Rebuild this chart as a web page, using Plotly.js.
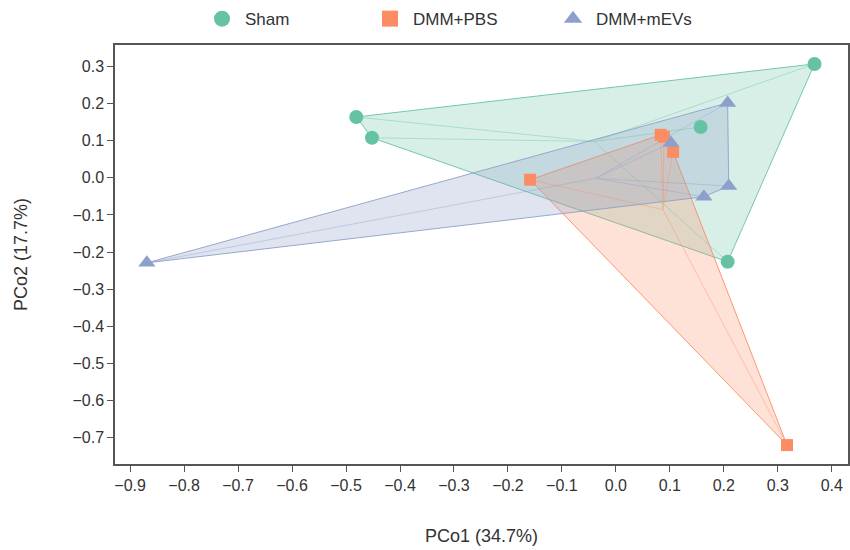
<!DOCTYPE html>
<html>
<head>
<meta charset="utf-8">
<script src="https://cdn.plot.ly/plotly-3.0.1.min.js"></script>
<style>html,body{margin:0;padding:0;background:#fff}#chart{width:850px;height:550px}</style>
</head>
<body>
<div id="chart"></div>
<script>
// Group names
const groups = ["Sham", "DMM+PBS", "DMM+mEVs"];
// PCo1 / PCo2 coordinates per group
const shamX = [0.368, -0.481, -0.452, 0.157, 0.207];
const shamY = [0.307, 0.164, 0.108, 0.137, -0.226];
const pbsX = [-0.159, 0.089, 0.083, 0.106, 0.317];
const pbsY = [-0.005, 0.111, 0.116, 0.070, -0.720];
const mevX = [-0.869, 0.102, 0.207, 0.209, 0.163];
const mevY = [-0.229, 0.094, 0.202, -0.022, -0.051];
// axis tick values
const xTicks = [-0.9,-0.8,-0.7,-0.6,-0.5,-0.4,-0.3,-0.2,-0.1,0.0,0.1,0.2,0.3,0.4];
const yTicks = [0.3,0.2,0.1,0.0,-0.1,-0.2,-0.3,-0.4,-0.5,-0.6,-0.7];

const colors = ["#66c2a5", "#fc8d62", "#8da0cb"];
const fills = ["rgba(102,194,165,0.28)", "rgba(252,141,98,0.28)", "rgba(141,160,203,0.30)"];
const symbols = ["circle", "square", "triangle-up"];
const sizes = [14, 12, 15];
const legendIds = ["legend", "legend2", "legend3"];
const legendX = [199, 367, 550];
const data = [[shamX, shamY], [pbsX, pbsY], [mevX, mevY]];

function hull(xs, ys) {
  const pts = xs.map((x, i) => [x, ys[i]]).sort((a, b) => a[0] - b[0] || a[1] - b[1]);
  const cross = (o, a, b) => (a[0]-o[0])*(b[1]-o[1]) - (a[1]-o[1])*(b[0]-o[0]);
  const lower = [], upper = [];
  for (const p of pts) { while (lower.length >= 2 && cross(lower[lower.length-2], lower[lower.length-1], p) <= 0) lower.pop(); lower.push(p); }
  for (let i = pts.length - 1; i >= 0; i--) { const p = pts[i]; while (upper.length >= 2 && cross(upper[upper.length-2], upper[upper.length-1], p) <= 0) upper.pop(); upper.push(p); }
  upper.pop(); lower.pop();
  const h = lower.concat(upper); h.push(h[0]);
  return h;
}

const traces = [];
// hulls
data.forEach((d, g) => {
  const h = hull(d[0], d[1]);
  traces.push({x: h.map(p => p[0]), y: h.map(p => p[1]), mode: "lines", fill: "toself",
    fillcolor: fills[g], line: {color: colors[g], width: 1}, opacity: 0.9,
    hoverinfo: "skip", showlegend: false});
});
// spider lines to centroid
data.forEach((d, g) => {
  const cx = d[0].reduce((a, b) => a + b, 0) / d[0].length;
  const cy = d[1].reduce((a, b) => a + b, 0) / d[1].length;
  const lx = [], ly = [];
  d[0].forEach((x, i) => { lx.push(x, cx, null); ly.push(d[1][i], cy, null); });
  traces.push({x: lx, y: ly, mode: "lines", line: {color: colors[g], width: 1}, opacity: 0.4,
    hoverinfo: "skip", showlegend: false});
});
// points
data.forEach((d, g) => {
  traces.push({x: d[0], y: d[1], mode: "markers", name: groups[g], showlegend: false,
    marker: {color: colors[g], symbol: symbols[g], size: sizes[g]}});
});
// legend-only entries (larger symbols)
groups.forEach((name, g) => {
  traces.push({x: [null], y: [null], mode: "markers", name: name, legend: legendIds[g],
    marker: {color: colors[g], symbol: symbols[g], size: 22}});
});

const layout = {
  width: 850, height: 550,
  margin: {l: 115, r: 2, t: 45, b: 86},
  paper_bgcolor: "#fff", plot_bgcolor: "#fff",
  font: {family: "Liberation Sans, Arial, sans-serif", color: "#333"},
  showlegend: true,
  xaxis: {range: [-0.928, 0.43], tickvals: xTicks, tickformat: ".1f", showgrid: false, zeroline: false,
    showline: true, mirror: true, linecolor: "#555", linewidth: 1.5, ticks: "outside", ticklen: 6,
    tickcolor: "#555", tickfont: {size: 16, color: "#333"},
    title: {text: "PCo1 (34.7%)", font: {size: 18, color: "#333"}, standoff: 36}},
  yaxis: {range: [-0.771, 0.358], tickvals: yTicks, tickformat: ".1f", showgrid: false, zeroline: false,
    showline: true, mirror: true, linecolor: "#555", linewidth: 1.5, ticks: "outside", ticklen: 6,
    tickcolor: "#555", tickfont: {size: 16, color: "#333"},
    title: {text: "PCo2 (17.7%)", font: {size: 18, color: "#333"}, standoff: 40}}
};
legendIds.forEach((id, g) => {
  layout[id] = {orientation: "h", xref: "container", yref: "container", x: legendX[g] / 850, y: 0.998,
    xanchor: "left", yanchor: "top", font: {size: 17, color: "#333"}, itemsizing: "trace",
    itemwidth: 36, bgcolor: "rgba(0,0,0,0)"};
});
Plotly.newPlot("chart", traces, layout, {displayModeBar: false});
</script>
</body>
</html>
